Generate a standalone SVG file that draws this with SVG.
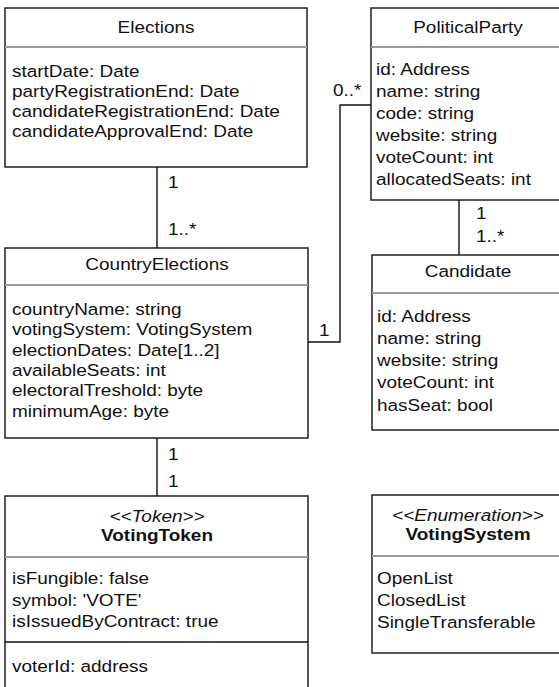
<svg xmlns="http://www.w3.org/2000/svg" width="559" height="687" viewBox="0 0 559 687">
<style>
  .box { fill: #fff; stroke: #111; stroke-width: 1.4; }
  .div { stroke: #9a9a9a; stroke-width: 2; }
  .divb { stroke: #111; stroke-width: 1.4; }
  .t { font-family: "Liberation Sans", Arial, Helvetica, sans-serif; font-size: 16.5px; fill: #111; }
  .c { text-anchor: middle; }
  .i { font-style: italic; }
  .b { font-weight: bold; }
  .ln { fill: none; stroke: #111; stroke-width: 1.4; }
</style>
<rect width="559" height="687" fill="#fff"/>

<g id="connectors">
  <path class="ln" d="M157,167 V248"/>
  <path class="ln" d="M308,342 H340 V105 H371"/>
  <path class="ln" d="M459,200 V255"/>
  <path class="ln" d="M157,438 V496"/>
  <text class="t" transform="matrix(1.15 0 0 1 168 188)">1</text>
  <text class="t" transform="matrix(1.15 0 0 1 168 235)">1..*</text>
  <text class="t" transform="matrix(1.15 0 0 1 333 96)">0..*</text>
  <text class="t" transform="matrix(1.15 0 0 1 319 336)">1</text>
  <text class="t" transform="matrix(1.15 0 0 1 476 219)">1</text>
  <text class="t" transform="matrix(1.15 0 0 1 476 242)">1..*</text>
  <text class="t" transform="matrix(1.15 0 0 1 168 460)">1</text>
  <text class="t" transform="matrix(1.15 0 0 1 168 487)">1</text>
</g>

<g id="Elections">
  <rect class="box" x="5" y="8" width="302" height="159"/>
  <line class="div" x1="5" y1="47" x2="307" y2="47"/>
  <text class="t c" transform="matrix(1.15 0 0 1 156 33)">Elections</text>
  <text class="t" transform="matrix(1.15 0 0 1 12 77)">startDate: Date</text>
  <text class="t" transform="matrix(1.15 0 0 1 12 97)">partyRegistrationEnd: Date</text>
  <text class="t" transform="matrix(1.15 0 0 1 12 117)">candidateRegistrationEnd: Date</text>
  <text class="t" transform="matrix(1.15 0 0 1 12 137)">candidateApprovalEnd: Date</text>
</g>

<g id="PoliticalParty">
  <rect class="box" x="371" y="8" width="194" height="192"/>
  <line class="div" x1="371" y1="47" x2="565" y2="47"/>
  <text class="t c" transform="matrix(1.15 0 0 1 468 33)">PoliticalParty</text>
  <text class="t" transform="matrix(1.15 0 0 1 376 75)">id: Address</text>
  <text class="t" transform="matrix(1.15 0 0 1 376 97)">name: string</text>
  <text class="t" transform="matrix(1.15 0 0 1 376 119)">code: string</text>
  <text class="t" transform="matrix(1.15 0 0 1 376 141)">website: string</text>
  <text class="t" transform="matrix(1.15 0 0 1 376 163)">voteCount: int</text>
  <text class="t" transform="matrix(1.15 0 0 1 376 185)">allocatedSeats: int</text>
</g>

<g id="CountryElections">
  <rect class="box" x="5" y="248" width="303" height="190"/>
  <line class="div" x1="5" y1="285" x2="308" y2="285"/>
  <text class="t c" transform="matrix(1.15 0 0 1 157 270)">CountryElections</text>
  <text class="t" transform="matrix(1.15 0 0 1 12 315)">countryName: string</text>
  <text class="t" transform="matrix(1.15 0 0 1 12 335.3)">votingSystem: VotingSystem</text>
  <text class="t" transform="matrix(1.15 0 0 1 12 355.6)">electionDates: Date[1..2]</text>
  <text class="t" transform="matrix(1.15 0 0 1 12 375.9)">availableSeats: int</text>
  <text class="t" transform="matrix(1.15 0 0 1 12 396.2)">electoralTreshold: byte</text>
  <text class="t" transform="matrix(1.15 0 0 1 12 416.5)">minimumAge: byte</text>
</g>

<g id="Candidate">
  <rect class="box" x="372" y="255" width="194" height="175"/>
  <line class="div" x1="372" y1="293" x2="566" y2="293"/>
  <text class="t c" transform="matrix(1.15 0 0 1 468 277)">Candidate</text>
  <text class="t" transform="matrix(1.15 0 0 1 377 321.5)">id: Address</text>
  <text class="t" transform="matrix(1.15 0 0 1 377 343.8)">name: string</text>
  <text class="t" transform="matrix(1.15 0 0 1 377 366.1)">website: string</text>
  <text class="t" transform="matrix(1.15 0 0 1 377 388.4)">voteCount: int</text>
  <text class="t" transform="matrix(1.15 0 0 1 377 410.7)">hasSeat: bool</text>
</g>

<g id="VotingToken">
  <rect class="box" x="5" y="496" width="303" height="210"/>
  <line class="div" x1="5" y1="557" x2="308" y2="557"/>
  <line class="divb" x1="5" y1="642" x2="308" y2="642"/>
  <text class="t c i" transform="matrix(1.15 0 0 1 157 521.5)">&lt;&lt;Token&gt;&gt;</text>
  <text class="t c b" transform="matrix(1.15 0 0 1 157 541)">VotingToken</text>
  <text class="t" transform="matrix(1.15 0 0 1 12 584)">isFungible: false</text>
  <text class="t" transform="matrix(1.15 0 0 1 12 605.5)">symbol: 'VOTE'</text>
  <text class="t" transform="matrix(1.15 0 0 1 12 627)">isIssuedByContract: true</text>
  <text class="t" transform="matrix(1.15 0 0 1 12 671.5)">voterId: address</text>
</g>

<g id="VotingSystem">
  <rect class="box" x="372" y="495" width="194" height="158"/>
  <line class="div" x1="372" y1="556" x2="566" y2="556"/>
  <text class="t c i" transform="matrix(1.15 0 0 1 468 520.5)">&lt;&lt;Enumeration&gt;&gt;</text>
  <text class="t c b" transform="matrix(1.15 0 0 1 468 540)">VotingSystem</text>
  <text class="t" transform="matrix(1.15 0 0 1 377 583.5)">OpenList</text>
  <text class="t" transform="matrix(1.15 0 0 1 377 605.5)">ClosedList</text>
  <text class="t" transform="matrix(1.15 0 0 1 377 627.5)">SingleTransferable</text>
</g>
</svg>
